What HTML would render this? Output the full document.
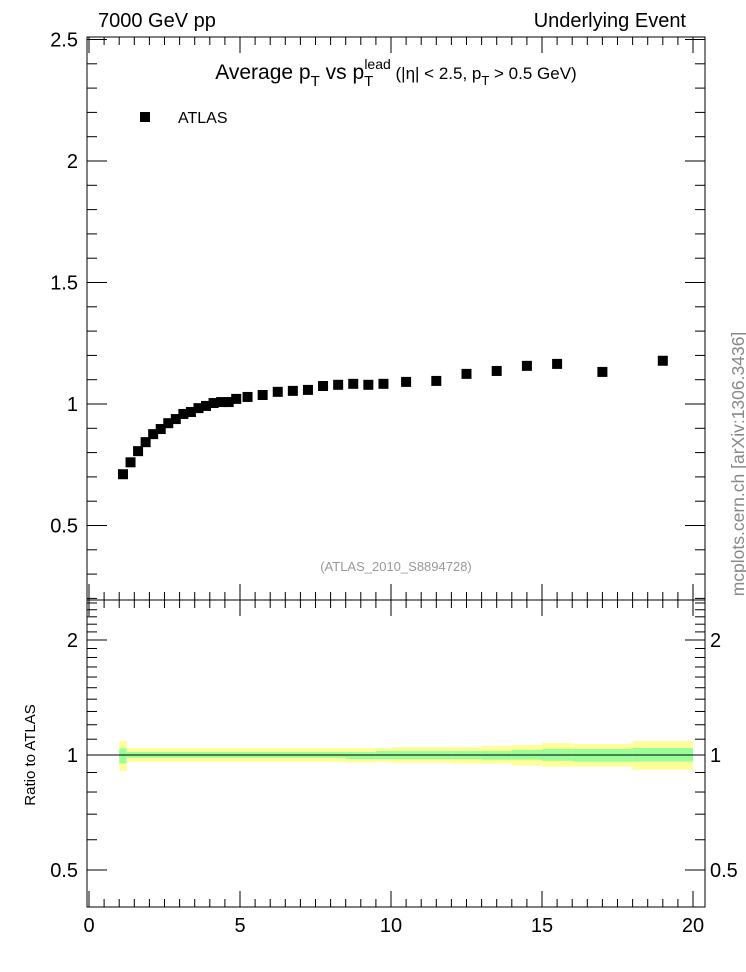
<!DOCTYPE html>
<html><head><meta charset="utf-8"><style>
body{margin:0;background:#fff}
svg{display:block;font-family:"Liberation Sans",sans-serif}
</style></head><body>
<svg id="c" width="746" height="972" xmlns="http://www.w3.org/2000/svg">
<text x="98" y="27" font-size="20">7000 GeV pp</text>
<text x="686" y="27" font-size="20" text-anchor="end">Underlying Event</text>
<text x="396" y="79" font-size="21" text-anchor="middle">Average p<tspan font-size="15" dy="7">T</tspan><tspan dy="-7"> vs p</tspan><tspan font-size="15" dy="7">T</tspan><tspan font-size="14" dy="-17" dx="-9">lead</tspan><tspan font-size="17" dy="10"> (|η| &lt; 2.5, p</tspan><tspan font-size="13" dy="6">T</tspan><tspan font-size="17" dy="-6"> &gt; 0.5 GeV)</tspan></text>
<rect x="140" y="112" width="10" height="10" fill="#000"/>
<text x="178" y="123" font-size="16">ATLAS</text>
<text x="396" y="571" font-size="13" fill="#999" text-anchor="middle">(ATLAS_2010_S8894728)</text>
<text transform="translate(744,464) rotate(-90)" font-size="17.5" fill="#888" text-anchor="middle">mcplots.cern.ch [arXiv:1306.3436]</text>
<text transform="translate(35,755) rotate(-90)" font-size="15" text-anchor="middle">Ratio to ATLAS</text>
<g id="g"></g>
</svg>
<script>
const xVals=[1.125,1.375,1.625,1.875,2.125,2.375,2.625,2.875,3.125,3.375,3.625,3.875,4.125,4.375,4.625,4.875,5.25,5.75,6.25,6.75,7.25,7.75,8.25,8.75,9.25,9.75,10.5,11.5,12.5,13.5,14.5,15.5,17,19];
const yVals=[0.711,0.760,0.806,0.843,0.876,0.897,0.921,0.938,0.959,0.967,0.983,0.992,1.004,1.008,1.008,1.021,1.029,1.037,1.050,1.054,1.058,1.074,1.079,1.083,1.079,1.083,1.091,1.095,1.124,1.136,1.157,1.165,1.132,1.178];
const bandEdges=[1,1.25,8.5,9.5,10,12,13,14,15,16,18,20];
const yellowHi=[1.088,1.043,1.043,1.043,1.049,1.049,1.056,1.062,1.075,1.068,1.088];
const yellowLo=[0.908,0.959,0.955,0.959,0.953,0.949,0.949,0.938,0.932,0.932,0.915];
const greenHi=[1.041,1.018,1.018,1.024,1.024,1.024,1.024,1.031,1.037,1.037,1.043];
const greenLo=[0.951,0.984,0.976,0.976,0.976,0.976,0.972,0.972,0.966,0.961,0.961];
const mainTicks=["0.5","1","1.5","2","2.5"];
const ratioTicks=["0.5","1","2"];
const xTicks=["0","5","10","15","20"];

const L=87,R=705,T=37,MB=600,RB=907;
const X=v=>89+v*30.2;
const Y=v=>404-(v-1)*243;
const RY=v=>755-Math.log2(v)*115;
const g=document.getElementById('g');
const NS='http://www.w3.org/2000/svg';
function mk(t,a,p){const e=document.createElementNS(NS,t);for(const k in a)e.setAttribute(k,a[k]);(p||g).appendChild(e);return e;}
function ln(x1,y1,x2,y2,n){const e=mk('line',{x1,y1,x2,y2,stroke:'#000','stroke-width':1});

return e;}
for(let i=0;i<bandEdges.length-1;i++){
 const x1=X(bandEdges[i]),x2=X(bandEdges[i+1]);
 const y=mk('rect',{x:x1,y:RY(yellowHi[i]),width:x2-x1,height:RY(yellowLo[i])-RY(yellowHi[i]),fill:'#ffff99'});
 
 
 const gr=mk('rect',{x:x1,y:RY(greenHi[i]),width:x2-x1,height:RY(greenLo[i])-RY(greenHi[i]),fill:'#99ff99'});
 
 
}
ln(L,RY(1),R,RY(1),'ratio-unity-line');
[[T,MB,'main-frame'],[MB,RB,'ratio-frame']].forEach(([a,b,n])=>{const r=mk('rect',{x:L,y:a,width:R-L,height:b-a,fill:'none',stroke:'#000','stroke-width':1});

});
for(let v=0;v<=20.001;v+=0.5){const maj=Math.abs(v%5)<1e-6,len=maj?16:8,x=X(v);
 [[T,1],[MB,-1],[MB,1],[RB,-1]].forEach(([y0,d])=>ln(x,y0,x,y0+d*len,'x-tick'));}
xTicks.forEach(s=>{const t=mk('text',{x:X(+s),y:932,'font-size':20,'text-anchor':'middle'});t.textContent=s;

});
for(let k=2;k<=25;k++){const v=k/10,y=Y(v);if(y<T-1||y>MB)continue;const maj=k%5==0,len=maj?20:10;
 ln(L,y,L+len,y,'y-tick');ln(R,y,R-len,y,'y-tick');}
mainTicks.forEach(s=>{const t=mk('text',{x:78,y:Y(+s)+7,'font-size':20,'text-anchor':'end'});t.textContent=s;

});
const rt=[0.5,0.6,0.7,0.8,0.9,1,1.1,1.2,1.3,1.4,1.5,1.6,1.7,1.8,1.9,2,2.1,2.2,2.3,2.4,2.5];
rt.forEach(v=>{const y=RY(v);if(y<MB+2||y>RB)return;const maj=(v==0.5||v==1||v==2),len=maj?20:10;
 ln(L,y,L+len,y,'ratio-tick');ln(R,y,R-len,y,'ratio-tick');});
ratioTicks.forEach(s=>{[[78,'end'],[710,'start']].forEach(([x,a])=>{const t=mk('text',{x,y:RY(+s)+7,'font-size':20,'text-anchor':a});t.textContent=s;

});});
xVals.forEach((v,i)=>{const r=mk('rect',{x:X(v)-5,y:Y(yVals[i])-5,width:10,height:10,fill:'#000'});

});
</script>
</body></html>
